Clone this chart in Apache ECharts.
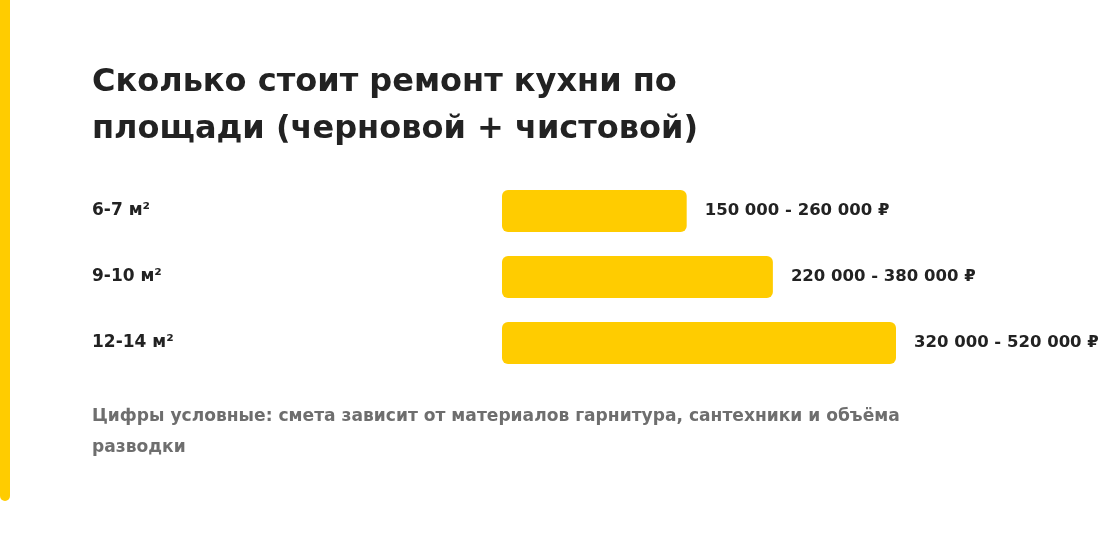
<!DOCTYPE html>
<html>
<head>
<meta charset="utf-8">
<script src="https://cdn.jsdelivr.net/npm/echarts@6/dist/echarts.min.js"></script>
<style>html,body{margin:0;padding:0;background:#fff}#c{width:1100px;height:542px}</style>
</head>
<body>
<div id="c"></div>
<script>
var categories = ['6-7 м²', '9-10 м²', '12-14 м²'];
var lowValues = [150000, 220000, 320000];
var highValues = [260000, 380000, 520000];
var titleText = 'Сколько стоит ремонт кухни по\nплощади (черновой + чистовой)';
var noteText = 'Цифры условные: смета зависит от материалов гарнитура, сантехники и объёма\nразводки';

function fmt(n) {
  return String(n).replace(/\B(?=(\d{3})+(?!\d))/g, ' ');
}
var labels = lowValues.map(function (v, i) { return fmt(v) + ' - ' + fmt(highValues[i]) + ' ₽'; });

var FONT = '"DejaVu Sans", "Liberation Sans", Arial, sans-serif';
var chart = echarts.init(document.getElementById('c'));
chart.setOption({
  backgroundColor: '#ffffff',
  animation: false,
  title: {
    text: titleText,
    left: 92, top: 59, padding: 0,
    textStyle: { fontFamily: FONT, fontSize: 32, fontWeight: 'bold', color: '#222222', lineHeight: 47 }
  },
  grid: { left: 502, top: 178, width: 492.5, height: 198, containLabel: false },
  xAxis: {
    type: 'value', min: 0, max: 400000,
    show: false
  },
  yAxis: {
    type: 'category', data: categories, inverse: true,
    axisLine: { show: false }, axisTick: { show: false }, splitLine: { show: false },
    axisLabel: { align: 'left', margin: 410, fontFamily: FONT, fontSize: 17, fontWeight: 'bold', color: '#222222' }
  },
  series: [{
    type: 'bar',
    data: lowValues,
    barWidth: 42,
    itemStyle: { color: '#FFCC00', borderRadius: 6 },
    label: {
      show: true, position: 'right', distance: 18,
      formatter: function (p) { return labels[p.dataIndex]; },
      fontFamily: FONT, fontSize: 16.5, fontWeight: 'bold', color: '#222222'
    }
  }],
  graphic: [
    { type: 'rect', shape: { x: 0, y: -10, width: 10, height: 511, r: 5 }, style: { fill: '#FFCC00' } },
    { type: 'text', left: 92, top: 401, style: { text: noteText, fontFamily: FONT, fontSize: 17.1, fontWeight: 'bold', fill: '#6e6e6e', lineHeight: 31 } }
  ]
});
</script>
</body>
</html>
